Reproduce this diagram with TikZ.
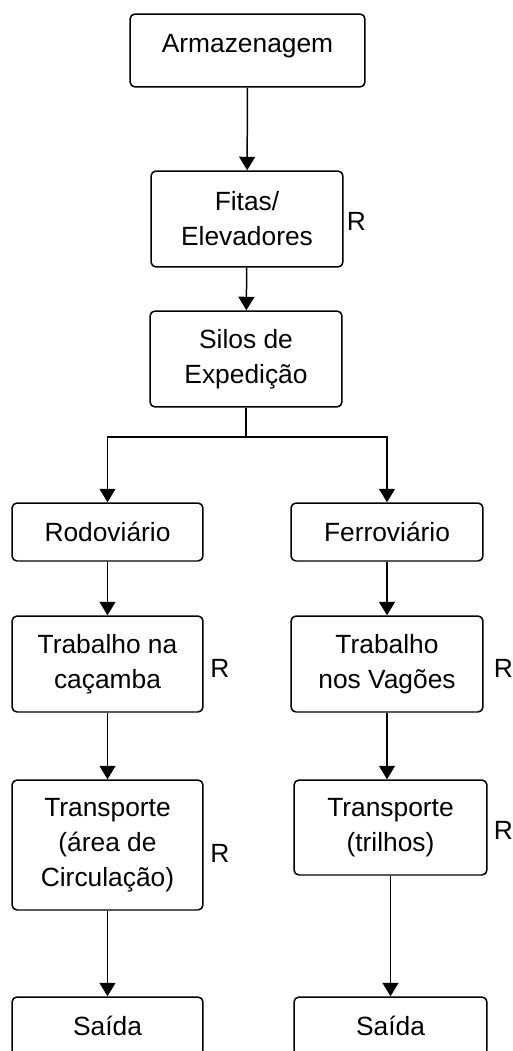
\documentclass[tikz,border=0pt]{standalone}
\usepackage{fontspec}
\setmainfont{Liberation Sans}
\usetikzlibrary{arrows.meta}

\tikzset{
	caixa/.style={draw, rounded corners=0.1cm, align=center, inner sep=0pt,
		minimum width=3.84cm, minimum height=1.92cm,
		font=\fontsize{15}{20}\selectfont},
	marca/.style={font=\fontsize{15}{16}\selectfont, inner sep=0pt},
}

\begin{document}
\begin{tikzpicture}[
	x=0.02cm, y=-0.02cm,
	>={Triangle[width=0.32cm,length=0.27cm]},
	line width=0.85pt
	]
	\useasboundingbox (0,0) rectangle (512,1051);
	\clip (0,0) rectangle (512,1051);
	% coluna central
	\node[caixa, minimum width=4.7cm, minimum height=1.46cm, text depth=8pt] (arm) at (247.5,50.5) {Armazenagem};
	\node[caixa] (fit) at (247,219) {Fitas/\\Elevadores};
	\node[caixa] (sil) at (246,359) {Silos de\\Expedição};
	\coordinate (br) at (246,437);
	% rodoviario
	\node[caixa, minimum width=3.82cm, minimum height=1.16cm] (rod) at (107.5,532) {Rodoviário};
	\node[caixa, minimum width=3.82cm] (trc) at (107.5,664) {Trabalho na\\caçamba};
	\node[caixa, minimum width=3.82cm, minimum height=2.6cm] (tpc) at (107.5,845) {Transporte\\(área de\\Circulação)};
	\node[caixa, minimum width=3.82cm, minimum height=1.16cm] (sa1) at (107.5,1026) {Saída};
	% ferroviario
	\node[caixa, minimum height=1.16cm] (fer) at (387,532) {Ferroviário};
	\node[caixa] (trv) at (387,664) {Trabalho\\nos Vagões};
	\node[caixa, minimum width=3.86cm, minimum height=1.9cm] (tpt) at (390.5,827.5) {Transporte\\(trilhos)};
	\node[caixa, minimum width=3.86cm, minimum height=1.16cm] (sa2) at (390.5,1026) {Saída};
	% R
	\node[marca] (r1) at (356.5,221) {R};
	\node[marca] (r2) at (220,668) {R};
	\node[marca] (r3) at (503.5,668) {R};
	\node[marca] (r4) at (220,853) {R};
	\node[marca] (r5) at (503.5,830) {R};
	\begin{scope}[->]
		\draw (arm) -- (fit);
		\draw (fit) -- (sil);
		\draw[-] (sil) -- (br);
		\draw (br) -| (rod);
		\draw (br) -| (fer);
		\draw (rod) -- (trc);
		\draw (trc) -- (tpc);
		\draw (tpc) -- (sa1);
		\draw (fer) -- (trv);
		\draw (trv) -- (trv |- tpt.north);
		\draw (tpt) -- (sa2);
	\end{scope}
\end{tikzpicture}
\end{document}
